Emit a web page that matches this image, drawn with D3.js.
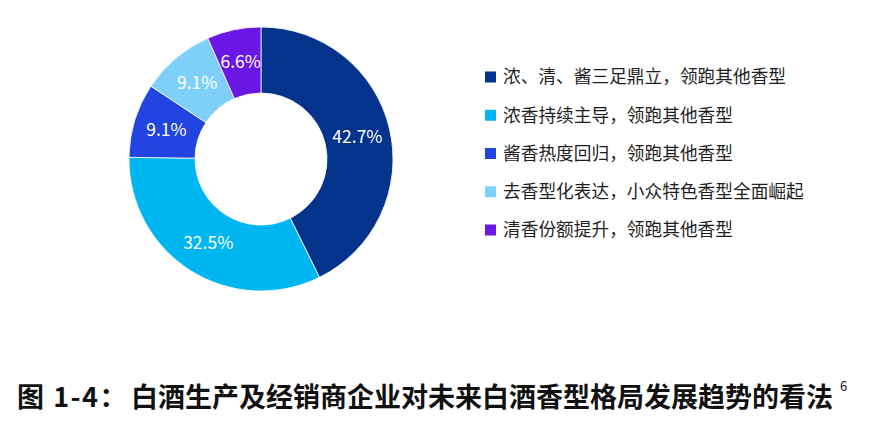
<!DOCTYPE html>
<html><head><meta charset="utf-8">
<script src="https://cdn.jsdelivr.net/npm/d3@7"></script>
<style>body{margin:0;background:#fff}</style>
</head><body>
<svg id="c" width="873" height="425"></svg>
<script>
const categories = ["浓、清、酱三足鼎立，领跑其他香型","浓香持续主导，领跑其他香型","酱香热度回归，领跑其他香型","去香型化表达，小众特色香型全面崛起","清香份额提升，领跑其他香型"];
const values = [42.7, 32.5, 9.1, 9.1, 6.6];
const colors = ["#03338b","#00b6f0","#2244e0","#7ed0fb","#6a17e6"];
const titlePrefix = "图 1-4：";
const titleMain = "白酒生产及经销商企业对未来白酒香型格局发展趋势的看法";
const titleNote = "6";

const svg = d3.select("#c");
const font = "'Noto Sans CJK SC','Noto Sans',sans-serif";
const cx = 261, cy = 159, rOuter = 132, rInner = 66;
const pie = d3.pie().sort(null).value(d => d)(values);
const arc = d3.arc().innerRadius(rInner).outerRadius(rOuter);
const g = svg.append("g").attr("transform", `translate(${cx},${cy})`);
g.selectAll("path").data(pie).join("path")
  .attr("d", arc).attr("fill", (d,i) => colors[i])
  .attr("stroke", "#fff").attr("stroke-width", 0.8);
g.selectAll("text").data(pie).join("text")
  .attr("transform", d => `translate(${arc.centroid(d)})`)
  .attr("text-anchor", "middle").attr("dy", "0.35em")
  .attr("fill", "#fff").attr("font-family", font).attr("font-size", 17.5)
  .text(d => d.data.toFixed(1) + "%");

const ly = d3.scalePoint().domain(categories).range([77, 230]);
const lg = svg.append("g");
categories.forEach((c, i) => {
  lg.append("rect").attr("x", 485).attr("y", ly(c) - 5.5).attr("width", 11).attr("height", 11).attr("fill", colors[i]);
  lg.append("text").attr("x", 503).attr("y", ly(c)).attr("dy", "0.36em")
    .attr("font-family", font).attr("font-size", 17.7).attr("fill", "#1e1e1e").text(c);
});

const t = svg.append("text").attr("y", 407)
  .attr("font-family", font).attr("font-size", 27).attr("font-weight", "bold").attr("fill", "#111");
t.append("tspan").attr("x", 17).attr("letter-spacing", 1.5).text(titlePrefix);
t.append("tspan").attr("x", 131).text(titleMain);
t.append("tspan").attr("dx", 7).attr("dy", -16).attr("font-size", 13).attr("font-weight", "normal").text(titleNote);
</script>
</body></html>
